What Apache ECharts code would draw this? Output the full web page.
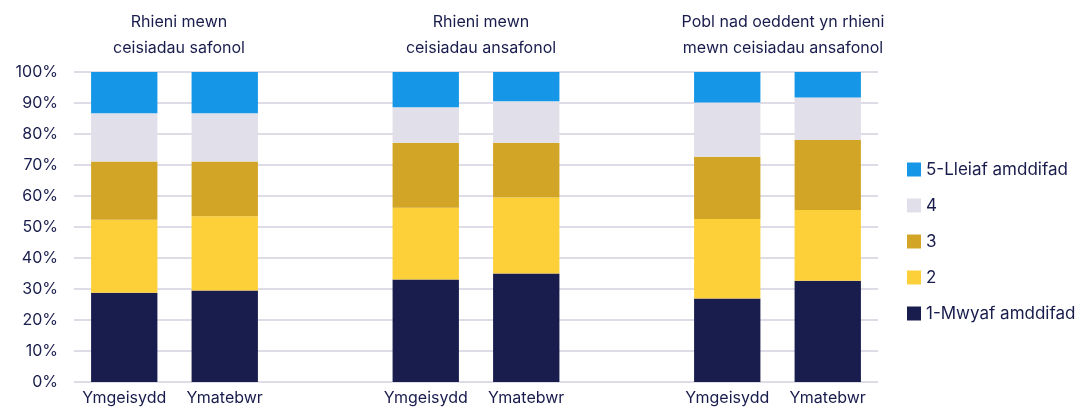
<!DOCTYPE html>
<html>
<head>
<meta charset="utf-8">
<script src="https://cdn.jsdelivr.net/npm/echarts@6/dist/echarts.min.js"></script>
<style>
  html, body { margin: 0; padding: 0; background: #fff; }
  #chart { width: 1082px; height: 407px; }
</style>
</head>
<body>
<div id="chart"></div>
<script>
// categories (empty slots are the gaps between the groups)
var categories = ['Ymgeisydd', 'Ymatebwr', '', 'Ymgeisydd', 'Ymatebwr', '', 'Ymgeisydd', 'Ymatebwr'];
var groupTitles = [
  'Rhieni mewn\nceisiadau safonol',
  'Rhieni mewn\nceisiadau ansafonol',
  'Pobl nad oeddent yn rhieni\nmewn ceisiadau ansafonol'
];
var yTicks = [0, 10, 20, 30, 40, 50, 60, 70, 80, 90, 100];

// shares in %
var most1 = [28.8, 29.5, '-', 33.1, 35.0, '-', 26.9, 32.7];
var q2 = [23.5, 24.0, '-', 23.1, 24.5, '-', 25.7, 22.8];
var q3 = [18.8, 17.6, '-', 21.0, 17.7, '-', 20.1, 22.6];
var q4 = [15.6, 15.6, '-', 11.4, 13.4, '-', 17.5, 13.7];
var least5 = [13.3, 13.3, '-', 11.4, 9.4, '-', 9.8, 8.2];

var names = ['1-Mwyaf amddifad', '2', '3', '4', '5-Lleiaf amddifad'];
var colors = ['#181d4e', '#fdd03a', '#d3a526', '#e1e0ea', '#1596e6'];
var values = [most1, q2, q3, q4, least5];

var textColor = '#181c4c';
var fontFam = 'Inter, "Noto Sans", sans-serif';

var chart = echarts.init(document.getElementById('chart'));

// title centres: middle of each pair of bars
var titleX = [174, 476, 778];

var option = {
  animation: false,
  title: groupTitles.map(function (t, i) {
    return {
      text: t,
      left: titleX[i],
      top: 4,
      textAlign: 'center',
      textStyle: {
        color: textColor,
        fontFamily: fontFam,
        fontSize: 16,
        fontWeight: 'normal',
        lineHeight: 26
      }
    };
  }),
  legend: {
    orient: 'vertical',
    left: 902,
    top: 156,
    itemWidth: 14,
    itemHeight: 14,
    itemGap: 19,
    icon: 'rect',
    data: names.slice().reverse(),
    textStyle: { color: textColor, fontFamily: fontFam, fontSize: 17 }
  },
  grid: { left: 74, right: 204, top: 72, bottom: 25, containLabel: false },
  xAxis: {
    type: 'category',
    data: categories,
    axisLine: { show: false },
    axisTick: { show: false },
    axisLabel: {
      interval: 0,
      color: textColor,
      fontFamily: fontFam,
      fontSize: 16,
      margin: 8
    }
  },
  yAxis: {
    type: 'value',
    min: 0,
    max: 100,
    interval: 10,
    axisLine: { show: false },
    axisTick: { show: false },
    axisLabel: {
      color: textColor,
      fontFamily: fontFam,
      fontSize: 16,
      margin: 16,
      formatter: function (v) { return yTicks.indexOf(v) >= 0 ? v + '%' : ''; }
    },
    splitLine: { lineStyle: { color: '#dedde7', width: 2 } }
  },
  series: names.map(function (n, i) {
    return {
      name: n,
      type: 'bar',
      stack: 'total',
      barWidth: '66%',
      data: values[i],
      itemStyle: { color: colors[i] }
    };
  })
};

chart.setOption(option);
</script>
</body>
</html>
